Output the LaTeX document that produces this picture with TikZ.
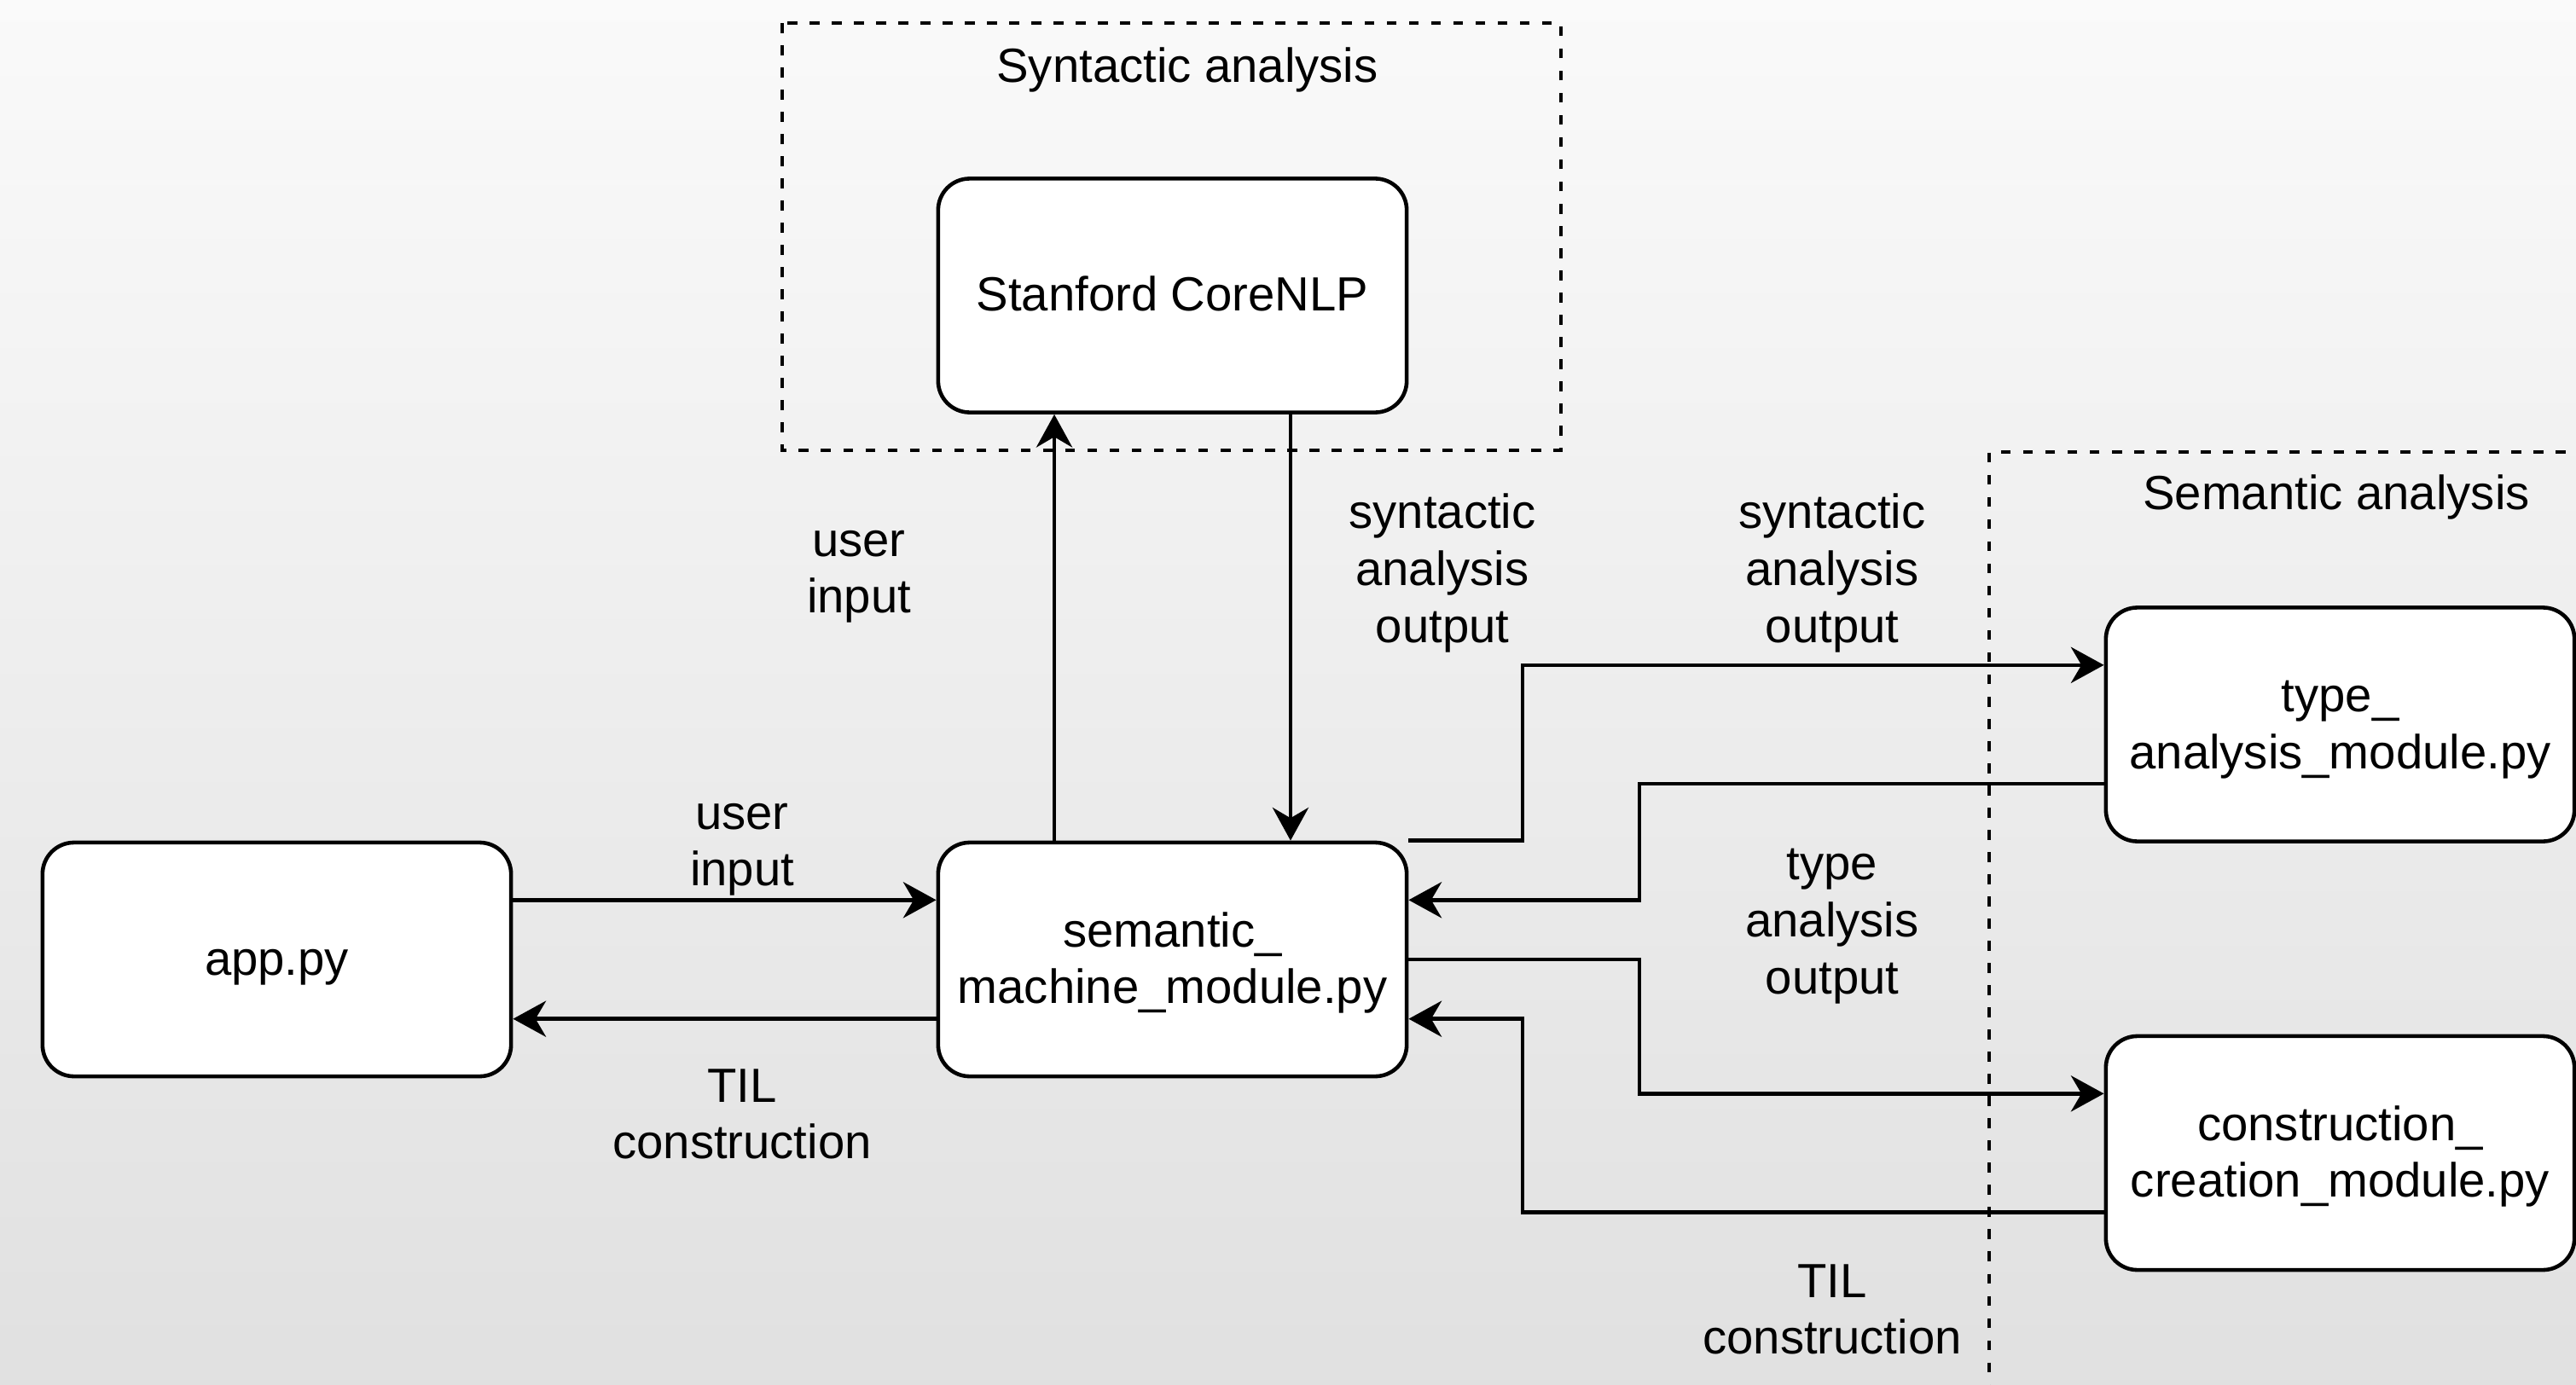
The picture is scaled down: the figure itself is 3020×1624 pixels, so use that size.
\documentclass[tikz,border=0pt]{standalone}
\usepackage{fontspec}
\setmainfont{Liberation Sans}
\usetikzlibrary{arrows.meta,calc}
% uniform line box so every text line is centred alike
\newcommand\lnstrut{\rule[-4.25pt]{0pt}{19pt}}
\begin{document}
\begin{tikzpicture}[x=0.01cm,y=-0.01cm,
  module/.style={draw, line width=1.3pt, fill=white, rounded corners=10.5pt,
    minimum width=5.49cm, minimum height=2.74cm, align=center, inner sep=2pt,
    font=\fontsize{16}{19}\selectfont},
  lbl/.style={align=center, font=\fontsize{16}{19}\selectfont, inner sep=0pt},
  flow/.style={line width=1.3pt, -{Stealth[length=11pt,width=12pt,inset=3.5pt]}},
  group/.style={draw, line width=0.9pt, dash pattern=on 3.3pt off 4.1pt}]
\useasboundingbox (0,0) rectangle (3020,1624);
\clip (0,0) rectangle (3020,1624);
\shade[top color=black!2, bottom color=black!12] (0,0) rectangle (3020,1624);

% grouping frames
\draw[group] (917,27) rectangle (1830,528);
\draw[group] (3060,530) -- (2332,530) -- (2332,1680);
\node[lbl] (syntitle) at (1392,78) {\lnstrut Syntactic analysis};
\node[lbl] (semtitle) at (2739,579) {\lnstrut Semantic analysis};

% modules
\node[module] (core) at (1374.5,346.5) {\lnstrut Stanford CoreNLP};
\node[module] (app)  at (324.5,1125) {\lnstrut app.py};
\node[module] (sem)  at (1374.5,1125) {\lnstrut semantic\_\\\lnstrut machine\_module.py};
\node[module] (type) at (2743.5,849.5) {\lnstrut type\_\\\lnstrut analysis\_module.py};
\node[module] (cons) at (2743.5,1352) {\lnstrut construction\_\\\lnstrut creation\_module.py};

% routing columns and ports
\coordinate (busA) at (1785,0);
\coordinate (busB) at (1922,0);
\coordinate (tin)  at ($(type.north west)!0.25!(type.south west)$);
\coordinate (tout) at ($(type.north west)!0.75!(type.south west)$);
\coordinate (cin)  at ($(cons.north west)!0.25!(cons.south west)$);
\coordinate (cout) at ($(cons.north west)!0.75!(cons.south west)$);

% connectors
\draw[flow] ($(app.north east)!0.25!(app.south east)$) -- ($(sem.north west)!0.25!(sem.south west)$);
\draw[flow] ($(sem.north west)!0.75!(sem.south west)$) -- ($(app.north east)!0.75!(app.south east)$);
\draw[flow] ($(sem.north west)!0.25!(sem.north east)$) -- ($(core.south west)!0.25!(core.south east)$);
\draw[flow] ($(core.south west)!0.75!(core.south east)$) -- ($(sem.north west)!0.75!(sem.north east)$);
\draw[flow] (sem.north east) -- (sem.north east -| busA) |- (tin);
\draw[flow] (tout) -- (tout -| busB) |- ($(sem.north east)!0.25!(sem.south east)$);
\draw[flow] (sem.east) -- (sem.east -| busB) |- (cin);
\draw[flow] (cout) -- (cout -| busA) |- ($(sem.north east)!0.75!(sem.south east)$);

% connector labels
\node[lbl] (l1) at (870,987) {\lnstrut user\\\lnstrut input};
\node[lbl] (l2) at (870,1307) {\lnstrut TIL\\\lnstrut construction};
\node[lbl] (l3) at (1007,667) {\lnstrut user\\\lnstrut input};
\node[lbl] (l4) at (1691,668) {\lnstrut syntactic\\\lnstrut analysis\\\lnstrut output};
\node[lbl] (l5) at (2148,668) {\lnstrut syntactic\\\lnstrut analysis\\\lnstrut output};
\node[lbl] (l6) at (2148,1080) {\lnstrut type\\\lnstrut analysis\\\lnstrut output};
\node[lbl] (l7) at (2148,1536) {\lnstrut TIL\\\lnstrut construction};
\end{tikzpicture}
\end{document}
